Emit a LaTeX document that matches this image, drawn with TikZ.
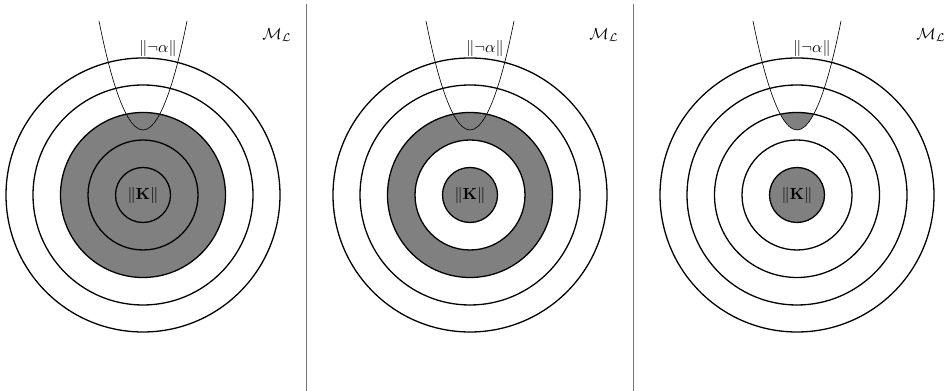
\documentclass[tikz,border=0pt]{standalone}
\usepackage{amsmath,amssymb}
\usepackage{tikz}
\usetikzlibrary{positioning}
\tikzset{
  sphere/.style={thick},
  worlds/.style={thin},
  kept/.style={fill=gray},
  divider/.style={semithick,gray!90!black}
}

\begin{document}
\begin{tikzpicture}[x=0.62pt,y=0.62pt]
        \useasboundingbox (0,0) rectangle (952,391);
        % shaded parts of each panel
        \fill[kept] (143,196) circle (82.5);
        \fill[kept,even odd rule] (470,196) circle (82.5) (470,196) circle (55);
        \fill[kept] (470,196) circle (27.5);
        \fill[kept] (797,196) circle (27.5);
        \foreach \cx/\n in {143/left,470/mid,797/right}{
          \begin{scope}
            \clip (\cx,196) circle (82.5);
            \fill[kept] (\cx-44,370) parabola bend (\cx,261) (\cx+44,370) -- cycle;
          \end{scope}
          \foreach \r in {27.5,55,82.5,110,137}{\draw[sphere] (\cx,196) circle (\r);}
          \draw[worlds] (\cx-44,370) parabola bend (\cx,261) (\cx+44,370);
          \node (K\n) at (\cx,196) {$\|\mathbf{K}\|$};
          \node (neg\n) at (\cx+15,343) {$\|\neg\alpha\|$};
          \node (M\n) at (\cx+134,356) {$\mathcal{M}_{\mathcal{L}}$};
        }
        \draw[divider] (306,0)--(306,387);
        \draw[divider] (633,0)--(633,387);
      \end{tikzpicture}
\end{document}
